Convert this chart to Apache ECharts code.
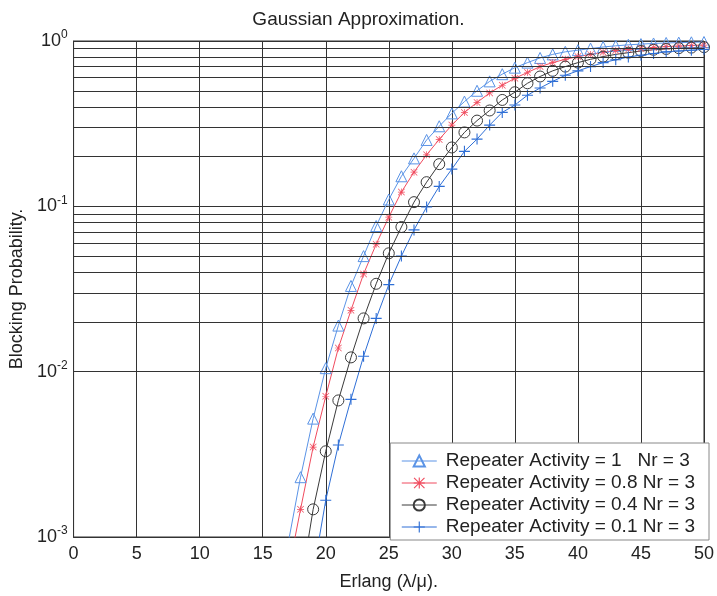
<!DOCTYPE html>
<html>
<head>
<meta charset="utf-8">
<script src="https://cdn.jsdelivr.net/npm/echarts@6/dist/echarts.min.js"></script>
<style>
  html, body { margin: 0; padding: 0; background: #fff; }
  #chart { width: 717px; height: 596px; }
</style>
</head>
<body>
<div id="chart"></div>
<script>
// values, one point per Erlang
var erlang = [17, 18, 19, 20, 21, 22, 23, 24, 25, 26, 27, 28, 29, 30, 31, 32, 33,
              34, 35, 36, 37, 38, 39, 40, 41, 42, 43, 44, 45, 46, 47, 48, 49, 50];

var act1 = [0.0009, 0.0023, 0.0052, 0.0105, 0.019, 0.033, 0.050, 0.076, 0.110, 0.152, 0.195,
            0.252, 0.305, 0.365, 0.43, 0.50, 0.57, 0.63, 0.69, 0.74, 0.79, 0.83, 0.86, 0.88,
            0.90, 0.92, 0.935, 0.948, 0.958, 0.966, 0.973, 0.978, 0.982, 0.986];
var act08 = [0.0006, 0.00147, 0.0035, 0.0071, 0.0139, 0.0235, 0.039, 0.059, 0.086, 0.122, 0.161,
             0.205, 0.254, 0.31, 0.37, 0.425, 0.485, 0.54, 0.595, 0.645, 0.70, 0.74, 0.775, 0.805,
             0.83, 0.855, 0.875, 0.89, 0.90, 0.915, 0.925, 0.932, 0.94, 0.945];
var act04 = [null, 0.0005, 0.00147, 0.0033, 0.0067, 0.0122, 0.021, 0.034, 0.052, 0.075, 0.106,
             0.140, 0.180, 0.227, 0.28, 0.33, 0.38, 0.44, 0.49, 0.555, 0.61, 0.66, 0.70, 0.74,
             0.775, 0.805, 0.83, 0.85, 0.87, 0.885, 0.895, 0.905, 0.912, 0.918];
var act01 = [null, null, 0.0006, 0.00167, 0.0036, 0.0068, 0.0124, 0.021, 0.0336, 0.050, 0.072,
             0.099, 0.132, 0.168, 0.215, 0.255, 0.31, 0.37, 0.41, 0.47, 0.52, 0.57, 0.62, 0.66,
             0.70, 0.74, 0.77, 0.80, 0.82, 0.84, 0.86, 0.87, 0.88, 0.89];

var names = ['Repeater Activity = 1   Nr = 3', 'Repeater Activity = 0.8 Nr = 3',
             'Repeater Activity = 0.4 Nr = 3', 'Repeater Activity = 0.1 Nr = 3'];

// minor log grid lines (2..9 in each decade)
var decades = [0.001, 0.01, 0.1];
var mults = [2, 3, 4, 5, 6, 7, 8, 9];
var minorLines = [];
decades.forEach(function (d) {
  mults.forEach(function (m) { minorLines.push({ yAxis: +(d * m).toPrecision(3) }); });
});

function pairs(ys) {
  return erlang.map(function (x, i) { return [x, ys[i]]; });
}

var font = '"Liberation Sans", Arial, sans-serif';
var starPath = 'path://M4.5,0h1v10h-1z M0,4.5h10v1h-10z M0.7,0L10,9.3L9.3,10L0,0.7Z M9.3,0L10,0.7L0.7,10L0,9.3Z';
var plusPath = 'path://M4.5,0h1v4.5h4.5v1h-4.5v4.5h-1v-4.5h-4.5v-1h4.5z';

var chart = echarts.init(document.getElementById('chart'));
chart.setOption({
  animation: false,
  backgroundColor: '#fff',
  textStyle: { fontFamily: font },
  title: {
    text: 'Gaussian Approximation.',
    left: 'center',
    top: 5,
    textStyle: { fontFamily: font, fontSize: 19, fontWeight: 'normal', color: '#222' }
  },
  grid: {
    left: 72, right: 11, top: 41, bottom: 56,
    show: true, borderColor: '#333', borderWidth: 1
  },
  legend: {
    data: names,
    orient: 'vertical',
    right: 8,
    bottom: 56,
    backgroundColor: '#fff',
    borderColor: '#888',
    borderWidth: 1,
    padding: [8, 14, 3, 11],
    itemWidth: 35,
    itemHeight: 14,
    itemGap: 2,
    lineStyle: { width: 1 },
    textStyle: { fontFamily: font, fontSize: 19, lineHeight: 20, color: '#222', padding: [0, 0, 0, 4] }
  },
  xAxis: {
    type: 'value',
    min: 0, max: 50, interval: 5,
    name: 'Erlang (λ/μ).',
    nameLocation: 'middle',
    nameGap: 36,
    nameTextStyle: { fontFamily: font, fontSize: 18, color: '#222' },
    axisLine: { show: true, lineStyle: { color: '#333' } },
    axisTick: { show: false },
    axisLabel: { fontFamily: font, fontSize: 18, color: '#222', margin: 8 },
    splitLine: { show: true, lineStyle: { color: '#333', width: 1 } }
  },
  yAxis: {
    type: 'log',
    logBase: 10,
    min: 0.001, max: 1,
    name: 'Blocking Probability.',
    nameLocation: 'middle',
    nameGap: 42,
    nameTextStyle: { fontFamily: font, fontSize: 18, color: '#222' },
    axisLine: { show: true, lineStyle: { color: '#333' } },
    axisTick: { show: false },
    axisLabel: {
      margin: 6,
      formatter: function (v) {
        return '{b|10}{s|' + Math.round(Math.log10(v)) + '}';
      },
      rich: {
        b: { fontFamily: font, fontSize: 18, color: '#222' },
        s: { fontFamily: font, fontSize: 12, color: '#222', padding: [0, 0, 12, 0] }
      }
    },
    splitLine: { show: true, lineStyle: { color: '#333', width: 1 } }
  },
  series: [
    {
      name: 'grid', type: 'line', data: [], z: 1, silent: true,
      markLine: {
        silent: true, symbol: 'none', label: { show: false },
        lineStyle: { color: '#333', width: 1, type: 'solid' },
        data: minorLines
      }
    },
    {
      name: names[0], type: 'line', data: pairs(act1),
      symbol: 'triangle', symbolSize: 11,
      itemStyle: { color: 'rgba(255,255,255,0)', borderColor: '#5a93e6', borderWidth: 1 },
      lineStyle: { color: '#5a93e6', width: 1 }
    },
    {
      name: names[1], type: 'line', data: pairs(act08),
      symbol: starPath, symbolSize: 7,
      itemStyle: { color: '#f04b5e' },
      lineStyle: { color: '#f04b5e', width: 1 }
    },
    {
      name: names[2], type: 'line', data: pairs(act04),
      symbol: 'circle', symbolSize: 11,
      itemStyle: { color: 'rgba(255,255,255,0)', borderColor: '#3a3a3a', borderWidth: 1 },
      lineStyle: { color: '#3a3a3a', width: 1 }
    },
    {
      name: names[3], type: 'line', data: pairs(act01),
      symbol: plusPath, symbolSize: 11,
      itemStyle: { color: '#2f6fd6' },
      lineStyle: { color: '#2f6fd6', width: 1 }
    }
  ]
});
</script>
</body>
</html>
